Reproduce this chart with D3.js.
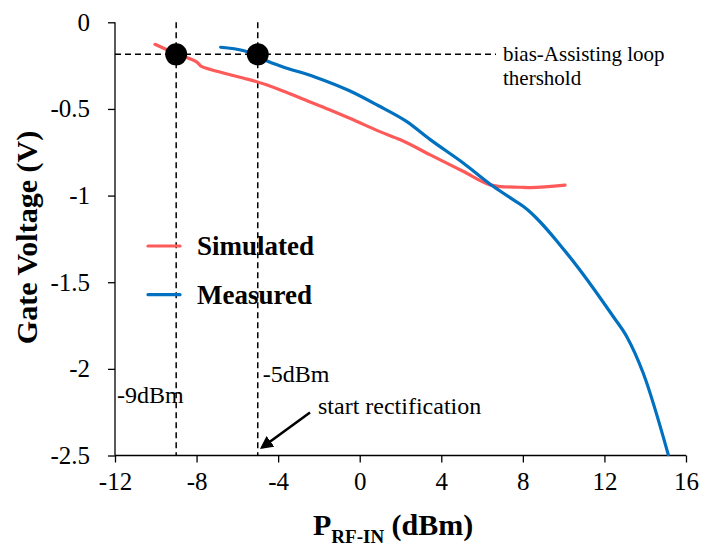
<!DOCTYPE html>
<html>
<head>
<meta charset="utf-8">
<script src="https://cdn.jsdelivr.net/npm/d3@7"></script>
<style>
  html, body { margin: 0; padding: 0; background: #fff; }
  svg text { font-family: "Liberation Serif", "Times New Roman", serif; fill: #000; }
</style>
</head>
<body>
<svg id="chart" width="705" height="547"></svg>
<script>
// Input RF power (dBm) and gate voltage (V), simulated curve
const simX = [-10.04, -8.93, -8.3, -7.96, -7.8, -7.31, -6.5, -5.68, -5.13, -3.89, -2.91, -1.45, -0.46, 0.99, 2.0, 3.46, 5.09, 6.4, 6.89, 7.87, 8.36, 10.07];
const simY = [-0.127, -0.185, -0.212, -0.232, -0.252, -0.272, -0.298, -0.323, -0.34, -0.39, -0.437, -0.506, -0.555, -0.631, -0.678, -0.765, -0.861, -0.938, -0.948, -0.952, -0.954, -0.94];

// Measured curve
const meaX = [-6.82, -5.68, -5.13, -4.54, -3.89, -2.2, -0.5, 0.9, 2.31, 3.46, 5.09, 6.56, 7.54, 8.03, 10.15, 12.43, 13.09, 13.9, 15.13];
const meaY = [-0.144, -0.164, -0.185, -0.223, -0.252, -0.315, -0.395, -0.48, -0.573, -0.677, -0.813, -0.948, -1.025, -1.063, -1.332, -1.698, -1.813, -2.024, -2.495];

// Axis ticks
const xTicks = [-12, -8, -4, 0, 4, 8, 12, 16];
const yTicks = [0, -0.5, -1, -1.5, -2, -2.5];
const yTickLabels = ["0", "-0.5", "-1", "-1.5", "-2", "-2.5"];

// Bias-assisting loop threshold and the two marked input powers
const thresholdV = -0.185;
const markerPowers = [-9, -5];
const markerLabels = ["-9dBm", "-5dBm"];

const seriesNames = ["Simulated", "Measured"];
const seriesColors = ["#FF5A5A", "#0070C0"];

const svg = d3.select("#chart");
const margin = { left: 115, right: 19, top: 22.3, bottom: 91.5 };
const W = 705, H = 547;

const x = d3.scaleLinear().domain([-12, 16]).range([margin.left, W - margin.right]);
const y = d3.scaleLinear().domain([-2.5, 0]).range([H - margin.bottom, margin.top]);

// Axes
const xAxis = d3.axisBottom(x).tickValues(xTicks).tickSize(7).tickSizeOuter(0).tickPadding(10)
  .tickFormat(d => d);
const gx = svg.append("g").attr("transform", `translate(0,${y(-2.5)})`).call(xAxis);
gx.selectAll("path, line").attr("stroke", "#000").attr("stroke-width", 1.3);
gx.selectAll("text").attr("font-size", 25).attr("dy", "0.71em");

const yAxis = d3.axisLeft(y).tickValues(yTicks).tickSize(7).tickSizeOuter(0).tickPadding(18)
  .tickFormat((d, i) => yTickLabels[i]);
const gy = svg.append("g").attr("transform", `translate(${x(-12)},0)`).call(yAxis);
gy.selectAll("path, line").attr("stroke", "#000").attr("stroke-width", 1.3);
gy.selectAll("text").attr("font-size", 25);
gy.select(".domain").attr("d", `M0,${y(0)}V${y(-2.5)}`);
gx.select(".domain").attr("d", `M${x(-12)},0H${x(16)}`);

// Threshold and marker guide lines
svg.append("line")
  .attr("x1", x(-12)).attr("x2", 496)
  .attr("y1", y(thresholdV)).attr("y2", y(thresholdV))
  .attr("stroke", "#000").attr("stroke-width", 1.5).attr("stroke-dasharray", "6,4");

svg.selectAll("line.vguide").data(markerPowers).enter().append("line")
  .attr("class", "vguide")
  .attr("x1", d => x(d)).attr("x2", d => x(d))
  .attr("y1", y(0)).attr("y2", y(-2.5))
  .attr("stroke", "#000").attr("stroke-width", 1.5).attr("stroke-dasharray", "6,4");

// Curves
const line = d3.line().x(d => x(d[0])).y(d => y(d[1])).curve(d3.curveMonotoneX);
const series = [d3.zip(simX, simY), d3.zip(meaX, meaY)];
svg.selectAll("path.series").data(series).enter().append("path")
  .attr("class", "series")
  .attr("d", line)
  .attr("fill", "none")
  .attr("stroke", (d, i) => seriesColors[i])
  .attr("stroke-width", 3.2)
  .attr("stroke-linecap", "round")
  .attr("stroke-linejoin", "round");

// Threshold crossing markers
svg.selectAll("circle.marker").data(markerPowers).enter().append("circle")
  .attr("class", "marker")
  .attr("cx", d => x(d)).attr("cy", y(thresholdV)).attr("r", 11)
  .attr("fill", "#000");

// Legend
const legend = svg.append("g");
seriesNames.forEach((name, i) => {
  const ly = 246 + i * 48.7;
  legend.append("line")
    .attr("x1", 148).attr("x2", 180).attr("y1", ly).attr("y2", ly)
    .attr("stroke", seriesColors[i]).attr("stroke-width", 3.2).attr("stroke-linecap", "round");
  legend.append("text")
    .attr("x", 197).attr("y", ly + 9)
    .attr("font-size", 27).attr("font-weight", "bold")
    .text(name);
});

// Annotations
svg.append("text").attr("x", 503).attr("y", 61).attr("font-size", 21).text("bias-Assisting loop");
svg.append("text").attr("x", 503).attr("y", 85).attr("font-size", 21).text("thershold");

svg.append("text").attr("x", x(-12) + 2).attr("y", 403).attr("font-size", 24).text(markerLabels[0]);
svg.append("text").attr("x", x(markerPowers[1]) + 5).attr("y", 382).attr("font-size", 24).text(markerLabels[1]);
svg.append("text").attr("x", 318).attr("y", 414).attr("font-size", 24).text("start rectification");

svg.append("defs").append("marker")
  .attr("id", "arrowHead")
  .attr("viewBox", "0 0 10 10").attr("refX", 8).attr("refY", 5)
  .attr("markerWidth", 5).attr("markerHeight", 5)
  .attr("markerUnits", "strokeWidth")
  .attr("orient", "auto")
  .append("path").attr("d", "M0,0L10,5L0,10Z").attr("fill", "#000");

svg.append("line")
  .attr("x1", 310).attr("y1", 412.5)
  .attr("x2", 262).attr("y2", 447.5)
  .attr("stroke", "#000").attr("stroke-width", 2.6)
  .attr("marker-end", "url(#arrowHead)");

// Axis titles
const xt = svg.append("text").attr("x", 313).attr("y", 535)
  .attr("font-size", 30).attr("font-weight", "bold");
xt.append("tspan").text("P");
xt.append("tspan").attr("font-size", 19).attr("dy", 8).text("RF-IN");
xt.append("tspan").attr("dy", -8).text(" (dBm)");

svg.append("text")
  .attr("transform", `translate(37,${(128 + 347) / 2}) rotate(-90)`)
  .attr("text-anchor", "middle")
  .attr("font-size", 30).attr("font-weight", "bold")
  .text("Gate Voltage (V)");
</script>
</body>
</html>
